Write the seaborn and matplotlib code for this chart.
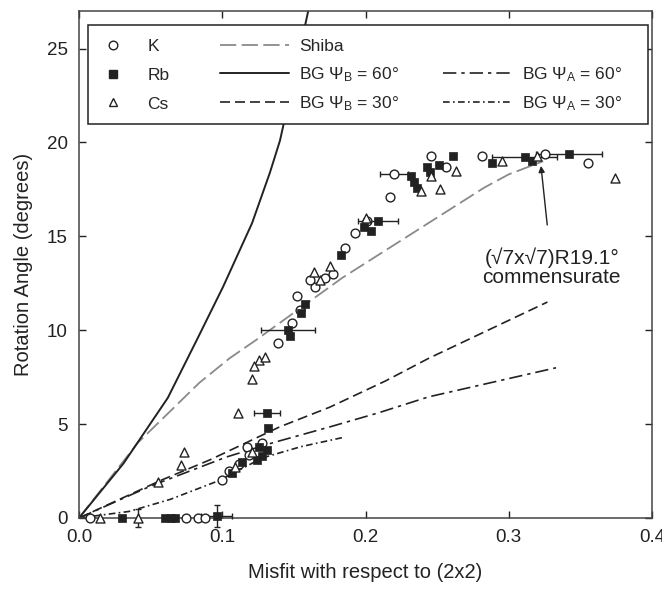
import matplotlib
matplotlib.use("Agg")
import matplotlib.pyplot as plt
from matplotlib.lines import Line2D
from matplotlib.patches import Rectangle
import seaborn as sns

# ---------------- data ----------------
# measured points
k_x = [0.008, 0.075, 0.083, 0.088, 0.100, 0.105, 0.112, 0.117, 0.119, 0.128,
       0.139, 0.149, 0.152, 0.154, 0.165, 0.161, 0.172, 0.177, 0.186, 0.193,
       0.201, 0.217, 0.220, 0.246, 0.256, 0.281, 0.325, 0.355]
k_y = [0.0, 0.0, 0.0, 0.0, 2.0, 2.5, 2.9, 3.8, 3.35, 4.0,
       9.3, 10.4, 11.8, 11.1, 12.3, 12.7, 12.8, 13.0, 14.4, 15.2,
       15.8, 17.1, 18.3, 19.3, 18.7, 19.3, 19.4, 18.9]

rb_x = [0.030, 0.060, 0.064, 0.067, 0.096, 0.107, 0.114, 0.124, 0.128, 0.126,
        0.131, 0.131, 0.132, 0.146, 0.147, 0.158, 0.155, 0.183, 0.199, 0.204,
        0.209, 0.232, 0.234, 0.236, 0.243, 0.245, 0.251, 0.261, 0.288, 0.311,
        0.316, 0.342]
rb_y = [0.0, 0.0, 0.0, 0.0, 0.1, 2.4, 3.0, 3.1, 3.3, 3.8,
        3.6, 5.6, 4.8, 10.0, 9.7, 11.4, 10.9, 14.0, 15.5, 15.3,
        15.8, 18.2, 17.9, 17.6, 18.7, 18.4, 18.8, 19.3, 18.9, 19.2,
        19.0, 19.4]

cs_x = [0.015, 0.041, 0.055, 0.071, 0.073, 0.109, 0.111, 0.121, 0.121, 0.126,
        0.130, 0.122, 0.164, 0.168, 0.175, 0.200, 0.239, 0.246, 0.252, 0.263,
        0.295, 0.320, 0.374]
cs_y = [0.0, 0.0, 1.9, 2.8, 3.5, 2.7, 5.6, 3.5, 7.4, 8.4,
        8.6, 8.1, 13.1, 12.7, 13.4, 16.0, 17.4, 18.2, 17.5, 18.5,
        19.0, 19.3, 18.1]

# error bars (x, y, xerr, yerr)
err_x = [0.096, 0.041, 0.131, 0.146, 0.209, 0.220, 0.311, 0.342]
err_y = [0.1, 0.0, 5.6, 10.0, 15.8, 18.3, 19.2, 19.4]
err_dx = [0.011, 0.0, 0.009, 0.019, 0.014, 0.010, 0.023, 0.023]
err_dy = [0.6, 0.5, 0.0, 0.0, 0.0, 0.0, 0.0, 0.0]

# theory curves
shiba_x = [0, 0.041, 0.084, 0.105, 0.124, 0.184, 0.283, 0.300, 0.324]
shiba_y = [0, 4.0, 7.2, 8.5, 9.5, 12.8, 17.6, 18.3, 19.0]

bgb60_x = [0, 0.031, 0.062, 0.083, 0.1005, 0.1208, 0.1333, 0.1403, 0.147, 0.160]
bgb60_y = [0, 2.9, 6.4, 9.6, 12.3, 15.7, 18.4, 20.1, 22.4, 27.0]

bgb30_x = [0, 0.057, 0.0915, 0.140, 0.175, 0.214, 0.244, 0.327]
bgb30_y = [0, 2.0, 3.1, 4.85, 5.9, 7.3, 8.5, 11.5]

bga60_x = [0, 0.050, 0.103, 0.135, 0.175, 0.209, 0.244, 0.333]
bga60_y = [0, 1.7, 3.25, 4.0, 4.85, 5.6, 6.45, 8.0]

bga30_x = [0, 0.035, 0.064, 0.098, 0.128, 0.155, 0.185]
bga30_y = [0, 0.35, 1.0, 2.0, 3.2, 3.8, 4.3]

x_ticks = [0.0, 0.1, 0.2, 0.3, 0.4]
x_tick_labels = ["0.0", "0.1", "0.2", "0.3", "0.4"]
y_ticks = [0, 5, 10, 15, 20, 25]

series_labels = ["K", "Rb", "Cs"]
curve_labels = ["Shiba", r"BG $\Psi_\mathrm{B}$ = 60°", r"BG $\Psi_\mathrm{B}$ = 30°",
                "", r"BG $\Psi_\mathrm{A}$ = 60°", r"BG $\Psi_\mathrm{A}$ = 30°"]

# ---------------- style ----------------
sns.set_style("ticks")
plt.rcParams['font.family'] = ['Liberation Sans', 'DejaVu Sans']
plt.rcParams['mathtext.fontset'] = 'custom'
plt.rcParams['mathtext.rm'] = 'Liberation Sans'
plt.rcParams['mathtext.it'] = 'Liberation Sans:italic'

fig = plt.figure(figsize=(6.62, 6.0), dpi=100)
ax = fig.add_axes([79 / 662, 82 / 600, 573 / 662, 507 / 600])

dark = "#222222"
styles = {
    "shiba": dict(color="#8a8a8a", lw=1.3, dashes=(9, 3)),
    "bgb60": dict(color=dark, lw=1.4),
    "bgb30": dict(color=dark, lw=1.2, dashes=(6, 3)),
    "bga60": dict(color=dark, lw=1.2, dashes=(8, 3, 2, 3)),
    "bga30": dict(color=dark, lw=1.2, dashes=(4, 2, 1, 2)),
}

def curve(xs, ys, key):
    st = dict(styles[key])
    dashes = st.pop("dashes", None)
    sns.lineplot(x=xs, y=ys, ax=ax, sort=False, estimator=None, zorder=2, **st)
    if dashes is not None:
        ax.lines[-1].set_dashes(dashes)

curve(shiba_x, shiba_y, "shiba")
curve(bgb60_x, bgb60_y, "bgb60")
curve(bgb30_x, bgb30_y, "bgb30")
curve(bga60_x, bga60_y, "bga60")
curve(bga30_x, bga30_y, "bga30")

ax.errorbar(err_x, err_y, xerr=err_dx, yerr=err_dy, fmt='none', ecolor=dark,
            elinewidth=1.0, capsize=2.5, zorder=3, clip_on=False)

sns.scatterplot(x=k_x, y=k_y, ax=ax, marker='o', s=40, facecolor='white',
                edgecolor=dark, linewidth=1.0, zorder=4, clip_on=False)
sns.scatterplot(x=rb_x, y=rb_y, ax=ax, marker='s', s=40, color=dark,
                edgecolor=dark, linewidth=0.5, zorder=4, clip_on=False)
sns.scatterplot(x=cs_x, y=cs_y, ax=ax, marker='^', s=42, facecolor='white',
                edgecolor=dark, linewidth=1.0, zorder=4, clip_on=False)

ax.set_xlim(0, 0.4)
ax.set_ylim(0, 27)
ax.set_xticks(x_ticks)
ax.set_xticklabels(x_tick_labels)
ax.set_yticks(y_ticks)
ax.tick_params(direction='in', top=True, right=True, length=5, width=1,
               labelsize=13.5, pad=8, colors=dark)
for sp in ax.spines.values():
    sp.set_linewidth(1.1)
    sp.set_color("#444444")

ax.set_xlabel("Misfit with respect to (2x2)", fontsize=14.5, labelpad=12, color=dark)
ax.set_ylabel("Rotation Angle (degrees)", fontsize=14.5, labelpad=10, color=dark)

ax.annotate("(√7x√7)R19.1°\ncommensurate", xy=(0.3225, 18.75), xytext=(0.330, 13.35),
            ha='center', va='center', fontsize=15, color=dark, linespacing=1.0,
            arrowprops=dict(arrowstyle='-|>', color=dark, lw=1.0, mutation_scale=9,
                            shrinkA=14, shrinkB=0))

# ---------------- legend ----------------
frame = Rectangle((9 / 573, 394 / 507), 560 / 573, 99 / 507, transform=ax.transAxes,
                  facecolor='white', edgecolor=dark, lw=1.1, zorder=9, clip_on=False)
ax.add_patch(frame)

def lh(key):
    st = dict(styles[key])
    dashes = st.pop("dashes", None)
    l = Line2D([], [], **st)
    if dashes is not None:
        l.set_dashes(dashes)
    return l

marker_handles = [
    Line2D([], [], ls='none', marker='o', ms=6.2, mfc='white', mec=dark, mew=1.0),
    Line2D([], [], ls='none', marker='s', ms=6.2, mfc=dark, mec=dark),
    Line2D([], [], ls='none', marker='^', ms=6.4, mfc='white', mec=dark, mew=1.0),
]
line_handles = [lh("shiba"), lh("bgb60"), lh("bgb30"),
                Line2D([], [], color='none'), lh("bga60"), lh("bga30")]

common = dict(loc='upper left', fontsize=12.5, frameon=False, borderpad=0,
              borderaxespad=0)
leg1 = ax.legend(marker_handles, series_labels, bbox_to_anchor=(25 / 573, 479 / 507),
                 handlelength=1.05, handletextpad=1.45, labelspacing=0.78, **common)
leg1.set_zorder(10)
ax.add_artist(leg1)
leg2 = ax.legend(line_handles, curve_labels, ncol=2, bbox_to_anchor=(141 / 573, 479 / 507),
                 handlelength=4.0, handletextpad=0.57, columnspacing=2.5,
                 labelspacing=0.62, **common)
leg2.set_zorder(10)

fig.savefig("out.png", dpi=100)
